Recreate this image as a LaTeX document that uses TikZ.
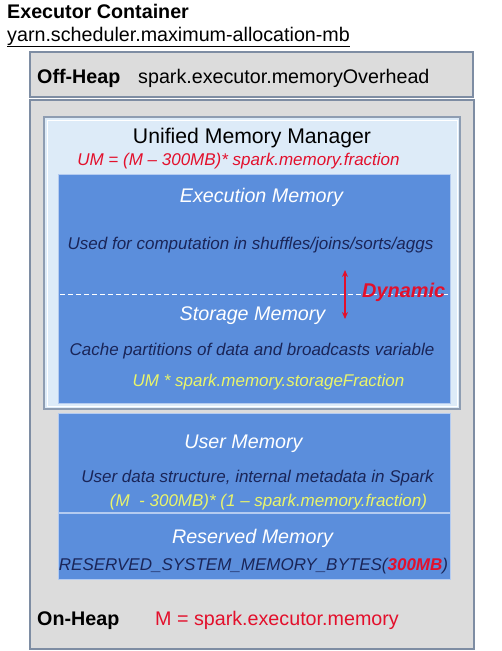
\documentclass[tikz,border=0pt]{standalone}
\usepackage{fontspec}
\setmainfont{Liberation Sans}
\usepackage{xcolor}
\definecolor{heapgray}{HTML}{DCDCDC}
\definecolor{heapline}{HTML}{7E8DA3}
\definecolor{ummfill}{HTML}{DDEBF8}
\definecolor{ummline}{HTML}{8E9DB2}
\definecolor{memblue}{HTML}{5B8EDC}
\definecolor{memedge}{HTML}{B4CBF0}
\definecolor{navy}{HTML}{1A2558}
\definecolor{umred}{HTML}{E3102C}
\definecolor{umyellow}{HTML}{EAF56A}
\usepackage{tikz}
\usetikzlibrary{arrows.meta}
\tikzset{
  heap/.style={draw=heapline,line width=1.5pt,fill=heapgray},
  umm/.style={draw=ummline,line width=1.3pt,fill=ummfill},
  mem/.style={draw=memedge,line width=1pt,fill=memblue},
  big/.style={font=\fontsize{19.7}{22}\selectfont,anchor=base,inner sep=0pt},
  small/.style={font=\fontsize{17}{20}\selectfont\itshape,anchor=base,inner sep=0pt},
  memhead/.style={big,font=\fontsize{19.7}{22}\selectfont\itshape,text=white},
  memtxt/.style={small,text=navy},
  memfrm/.style={small,text=umyellow},
}
\begin{document}
\begin{tikzpicture}[x=1pt,y=-1pt]
\useasboundingbox[fill=white] (0,0) rectangle (502,651);
\node[big,anchor=base west,font=\fontsize{19.7}{22}\selectfont\bfseries] (exec) at (7,18.5) {Executor Container};
\node[big,anchor=base west] (yarn) at (7,41) {\underline{yarn.scheduler.maximum-allocation-mb}};
\draw[heap] (30,52) rectangle (473,97);
\node[big,anchor=base west,font=\fontsize{19.7}{22}\selectfont\bfseries] (offlab) at (37,83) {Off-Heap};
\node[big,anchor=base west] (offval) at (138,83) {spark.executor.memoryOverhead};
\draw[heap] (30,100) rectangle (474,649);
\draw[umm] (44,117) rectangle (460,409);
\draw[white,line width=1pt] (47,120) rectangle (457,406);
\node[big,font=\fontsize{21.2}{24}\selectfont] (ummlab) at (252,143) {Unified Memory Manager};
\node[small,text=umred] (ummfrm) at (238.5,165) {UM = (M \textendash{} 300MB)* spark.memory.fraction};
\draw[mem] (58,174) rectangle (450,403);
\draw[white,dashed,dash pattern=on 5pt off 3pt,line width=0.8pt] (60,294) -- (448,294);
\node[memhead] (execlab) at (261.5,202) {Execution Memory};
\node[memtxt] (exectxt) at (250.5,249) {Used for computation in shuffles/joins/sorts/aggs};
\coordinate (dyntop) at (345,270);
\coordinate (dynbot) at (345,319);
\draw[umred,line width=1.3pt,{Stealth[length=7pt,width=6pt]}-{Stealth[length=7pt,width=6pt]}] (dyntop) -- (dynbot);
\node[big,anchor=base west,font=\fontsize{19.9}{22}\selectfont\bfseries\itshape,text=umred] (dyn) at (362,297) {Dynamic};
\node[memhead] (storlab) at (252.5,320.5) {Storage Memory};
\node[memtxt] (stortxt) at (252,355) {Cache partitions of data and broadcasts variable};
\node[memfrm] (storfrm) at (268.5,386.5) {UM * spark.memory.storageFraction};
\draw[mem] (58,413) rectangle (450,512.5);
\draw[mem] (58,513.5) rectangle (450,579);
\node[memhead] (userlab) at (243.5,448) {User Memory};
\node[memtxt] (usertxt) at (257.5,482.5) {User data structure, internal metadata in Spark};
\node[memfrm] (userfrm) at (268.5,506.5) {(M\ \ - 300MB)* (1 \textendash{} spark.memory.fraction)};
\node[memhead] (reslab) at (252.5,543) {Reserved Memory};
\node[memtxt] (restxt) at (253.5,570.5) {RESERVED\_SYSTEM\_MEMORY\_BYTES({\bfseries\color{umred}300MB})};
\node[big,anchor=base west,font=\fontsize{19.7}{22}\selectfont\bfseries] (onlab) at (37,625) {On-Heap};
\node[big,anchor=base west,text=umred] (onval) at (155,625) {M = spark.executor.memory};
\end{tikzpicture}
\end{document}
